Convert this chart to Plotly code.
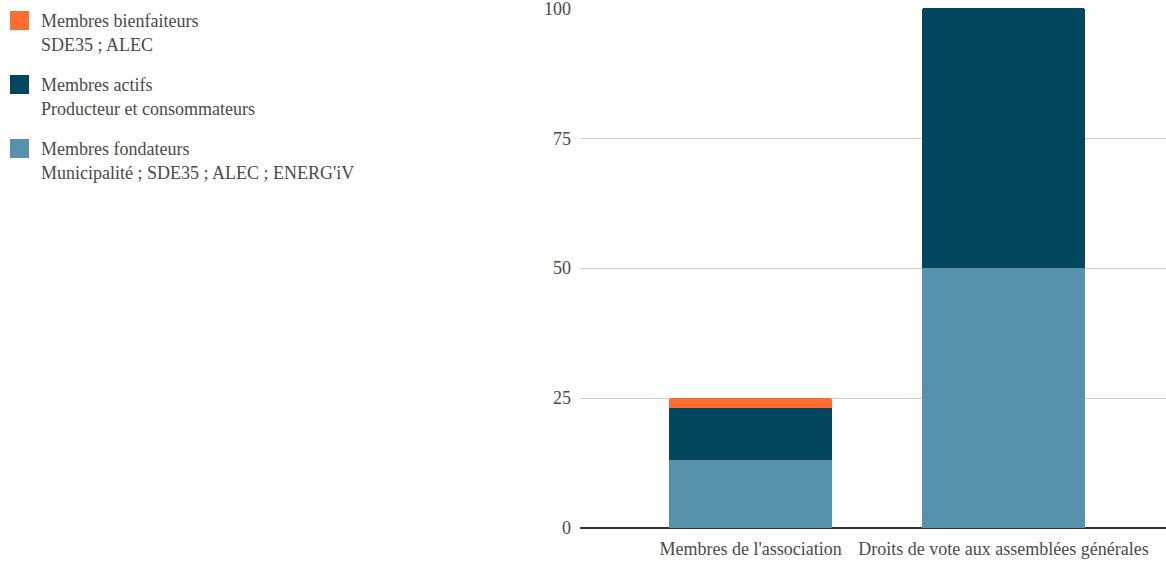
import plotly.graph_objects as go

categories = ["Membres de l'association", "Droits de vote aux assemblées générales"]
fondateurs = [13, 50]
actifs = [10, 50]
bienfaiteurs = [2, 0]

series_names = ["Membres fondateurs", "Membres actifs", "Membres bienfaiteurs"]
series_sub = ["Municipalité ; SDE35 ; ALEC ; ENERG'iV", "Producteur et consommateurs", "SDE35 ; ALEC"]
colors = ["#5891ae", "#02465f", "#ff6d31"]
y_ticks = [0, 25, 50, 75, 100]

FONT = "Liberation Serif"
TXT = "#4a4a4a"
FS = 18

fig = go.Figure()
for vals, name, col in zip([fondateurs, actifs, bienfaiteurs], series_names, colors):
    fig.add_trace(go.Bar(x=categories, y=vals, name=name, marker=dict(color=col, line=dict(width=0)),
                         width=0.644, showlegend=False))

W, H = 1166, 563
L, R, T, B = 580, 0, 8, 35
pw, ph = W - L - R, H - T - B

def px2x(px):
    return (px - L) / pw

def py2y(py):
    return (H - B - py) / ph

shapes = []
annotations = []
order = [2, 1, 0]
for i, idx in enumerate(order):
    top = 11 + 64 * i
    shapes.append(dict(type="rect", xref="paper", yref="paper",
                       x0=px2x(10), x1=px2x(29), y0=py2y(top), y1=py2y(top + 19),
                       fillcolor=colors[idx], line=dict(width=0), layer="above"))
    annotations.append(dict(xref="paper", yref="paper", x=px2x(39), y=py2y(top + 10),
                            text=series_names[idx], showarrow=False, xanchor="left", yanchor="middle",
                            font=dict(family=FONT, size=FS, color=TXT)))
    annotations.append(dict(xref="paper", yref="paper", x=px2x(39), y=py2y(top + 34),
                            text=series_sub[idx], showarrow=False, xanchor="left", yanchor="middle",
                            font=dict(family=FONT, size=FS, color=TXT)))

fig.update_layout(
    barmode="stack",
    barcornerradius=2,
    width=W, height=H,
    margin=dict(l=L, r=R, t=T, b=B, pad=0),
    paper_bgcolor="white", plot_bgcolor="white",
    font=dict(family=FONT, size=FS, color=TXT),
    shapes=shapes, annotations=annotations,
    xaxis=dict(range=[-0.674, 1.642], showgrid=False, showline=False, zeroline=False,
               ticks="", ticklabelstandoff=8, ticklabeloverflow="allow",
               tickfont=dict(family=FONT, size=FS, color=TXT), fixedrange=True),
    yaxis=dict(range=[0, 100.05], tickvals=y_ticks, showgrid=True, gridcolor="#cccccc", gridwidth=1,
               zeroline=True, zerolinecolor="#333333", zerolinewidth=1.5,
               ticks="", ticklabelstandoff=8, ticklabeloverflow="allow",
               tickfont=dict(family=FONT, size=FS, color=TXT)),
)

fig.write_html("out.html", config={"displayModeBar": False},
               post_script="document.body.style.margin='0';")
